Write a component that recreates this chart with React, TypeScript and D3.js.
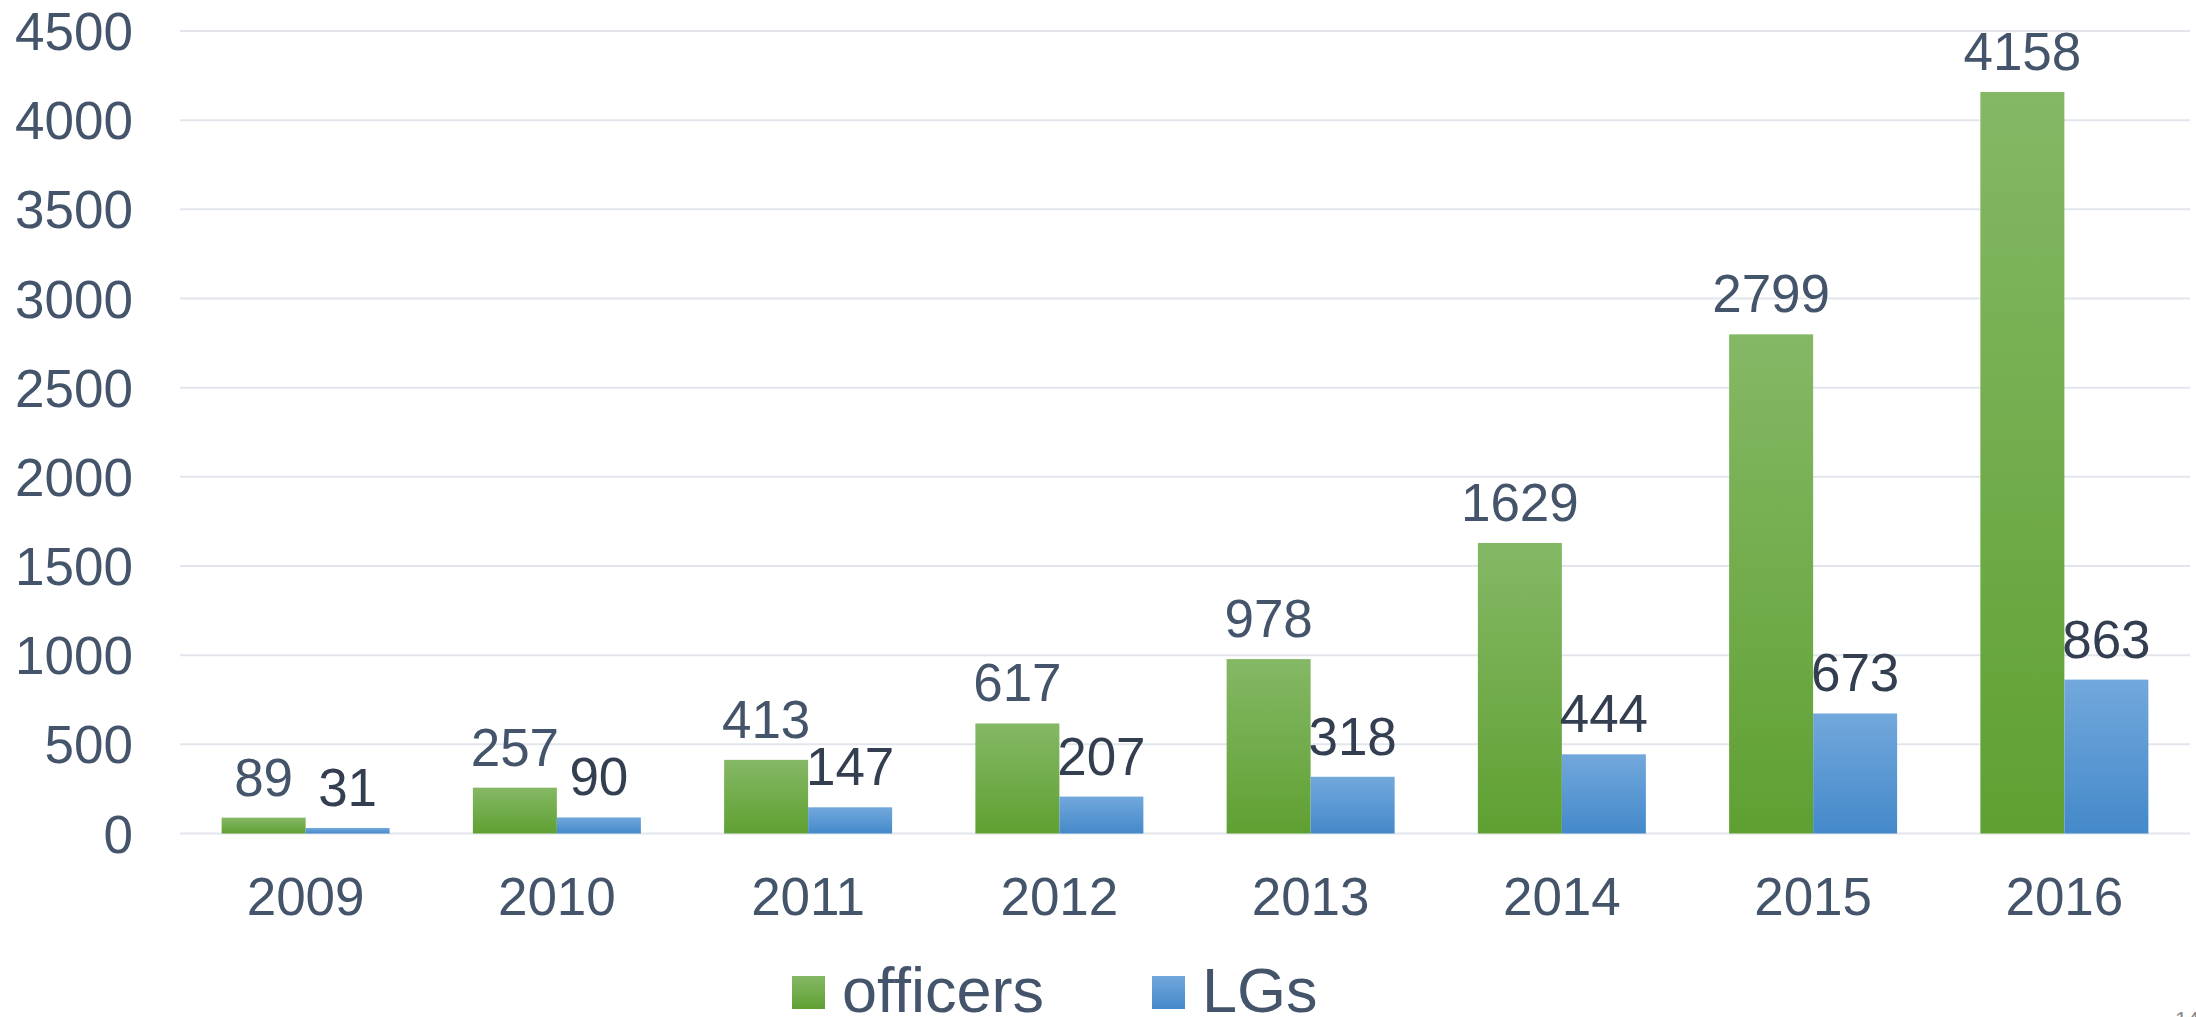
import React from "react";
import * as d3 from "d3";

const years = ["2009", "2010", "2011", "2012", "2013", "2014", "2015", "2016"];
const officers = [89, 257, 413, 617, 978, 1629, 2799, 4158];
const lgs = [31, 90, 147, 207, 318, 444, 673, 863];
const yTicks = [0, 500, 1000, 1500, 2000, 2500, 3000, 3500, 4000, 4500];
const seriesNames = ["officers", "LGs"];

const W = 2196;
const H = 1017;
const FONT = "'Liberation Sans', Arial, sans-serif";

export default function App() {
  const x = d3.scaleBand<string>().domain(years).range([180, 2190]).paddingInner(0).paddingOuter(0);
  const y = d3.scaleLinear().domain([0, 4500]).range([833.5, 31]);
  const barW = 84;

  return (
    <svg width={W} height={H} style={{ position: "absolute", left: 0, top: 0, background: "#fff" }}>
      <defs>
        <linearGradient id="gGreen" x1="0" y1="0" x2="0" y2="1">
          <stop offset="0" stopColor="#85B865" />
          <stop offset="1" stopColor="#5FA032" />
        </linearGradient>
        <linearGradient id="gBlue" x1="0" y1="0" x2="0" y2="1">
          <stop offset="0" stopColor="#72A8DC" />
          <stop offset="1" stopColor="#4489CA" />
        </linearGradient>
      </defs>
      {yTicks.map((t) => (
        <g key={t}>
          <line x1={180} x2={2190} y1={y(t)} y2={y(t)} stroke="#E2E6EC" strokeWidth={2} />
          <text x={133} y={y(t) + 19} textAnchor="end" fontFamily={FONT} fontSize={53} fill="#44546A">
            {t}
          </text>
        </g>
      ))}
      {years.map((yr, i) => {
        const cx = (x(yr) as number) + x.bandwidth() / 2;
        return (
          <g key={yr}>
            <rect x={cx - barW} y={y(officers[i])} width={barW} height={y(0) - y(officers[i])} fill="url(#gGreen)" />
            <rect x={cx} y={y(lgs[i])} width={barW} height={y(0) - y(lgs[i])} fill="url(#gBlue)" />
            <text x={cx - barW / 2} y={y(officers[i]) - 22} textAnchor="middle" fontFamily={FONT} fontSize={53} fill="#44546A">
              {officers[i]}
            </text>
            <text x={cx + barW / 2} y={y(lgs[i]) - 22} textAnchor="middle" fontFamily={FONT} fontSize={53} fill="#333F50">
              {lgs[i]}
            </text>
            <text x={cx} y={915} textAnchor="middle" fontFamily={FONT} fontSize={53} fill="#44546A">
              {yr}
            </text>
          </g>
        );
      })}
      <g>
        <rect x={792} y={976} width={33} height={33} fill="url(#gGreen)" />
        <text x={842} y={1012} fontFamily={FONT} fontSize={63} fill="#44546A">{seriesNames[0]}</text>
        <rect x={1152} y={976} width={33} height={33} fill="url(#gBlue)" />
        <text x={1202} y={1012} fontFamily={FONT} fontSize={63} fill="#44546A">{seriesNames[1]}</text>
      </g>
      <text x={2175} y={1027} fontFamily={FONT} fontSize={22} fill="#8A8A8A">14</text>
    </svg>
  );
}
